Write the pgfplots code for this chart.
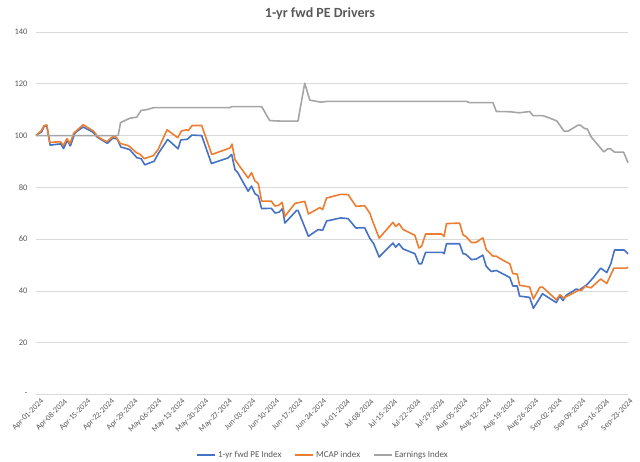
\documentclass[border=0pt]{standalone}
\usepackage{fontspec}
\setmainfont{Carlito}
\usepackage{pgfplots}
\usepackage{pgfplotstable}
\pgfplotsset{compat=1.18}
\definecolor{cblue}{HTML}{4472C4}
\definecolor{corange}{HTML}{ED7D31}
\definecolor{cgray}{HTML}{A5A5A5}
\definecolor{ctext}{HTML}{595959}
\definecolor{cgrid}{HTML}{D9D9D9}

\pgfplotstableread{
d v
0 100
1.7 101.5
2.4 103.6
3.2 103.8
4.2 96.3
7.3 96.8
8.2 95.0
9.3 98.2
10.2 96.0
11.6 101.1
14.0 103.3
16.8 101.4
18.3 99.3
21.2 97.0
22.8 99.1
24.1 98.7
25.2 95.6
27.8 94.6
30.0 91.4
31.2 91.1
32.3 88.7
35.1 90.1
36.3 93.0
39.1 98.5
42.2 94.9
43.0 98.3
45.0 98.6
46.3 100.2
49.2 100.0
52.1 89.2
57.1 91.4
58.1 92.7
59.1 86.8
59.9 85.7
63.0 78.5
64.0 80.5
65.0 77.6
66.0 76.7
67.0 71.8
69.9 71.9
71.0 70.1
72.2 70.4
73.2 71.8
73.9 66.2
77.4 71.1
77.8 71.1
80.9 61.1
83.8 63.7
85.1 63.4
86.3 67.0
90.5 68.2
92.7 67.9
95.0 64.3
97.6 64.4
99.1 60.4
100.3 58.2
101.9 53.1
106.0 58.5
106.8 56.9
107.8 58.2
109.0 56.2
112.5 54.4
113.7 50.5
114.5 50.5
115.7 54.9
120.7 54.9
121.2 54.4
121.9 58.2
125.8 58.2
126.8 54.4
127.6 54.2
129.3 52.1
130.7 52.3
132.7 53.8
133.7 49.5
135.2 47.5
136.7 47.9
140.7 45.2
141.6 41.9
142.9 41.9
143.6 38.0
146.6 37.5
147.7 33.3
150.4 38.9
154.5 35.5
155.5 38.0
156.5 36.3
157.4 38.3
160.4 40.7
161.4 40.4
163.6 42.4
165.4 45.0
167.7 48.8
169.5 47.1
170.7 50.5
171.8 55.8
174.7 55.8
175.8 54.3
}\pe

\pgfplotstableread{
d v
0 100
1.5 101.8
2.4 103.8
3.2 104.1
4.1 97.3
5.6 97.5
7.3 97.6
8.1 96.2
9.2 98.8
10.1 96.9
11.2 100.9
14.0 104.2
16.0 102.6
17.0 101.8
18.5 99.4
21.0 97.6
22.8 99.6
23.8 99.4
25.0 97.0
27.6 96.0
29.8 93.4
30.9 92.8
32.2 91.1
34.9 92.3
36.3 94.7
38.9 102.2
42.1 99.2
43.2 101.8
44.7 102.2
45.2 101.9
46.4 103.9
49.2 103.9
52.2 92.7
57.6 95.2
58.2 96.7
59.1 90.7
60.0 89.0
63.0 83.6
64.0 85.7
65.0 82.5
66.0 81.5
67.0 74.7
69.9 74.7
70.9 72.8
72.1 73.1
73.1 74.2
73.9 68.8
76.9 73.8
79.8 74.6
80.9 69.7
84.3 72.2
85.1 71.4
86.3 75.9
90.5 77.3
92.7 77.2
95.0 72.7
97.6 72.9
99.1 70.1
100.1 66.5
101.9 60.4
106.0 66.5
106.8 64.9
107.8 66.0
109.0 63.7
112.5 61.5
113.7 56.6
114.5 57.2
115.7 62.0
120.4 62.0
121.2 61.1
121.9 66.0
125.8 66.2
126.8 61.7
127.6 61.1
129.3 58.7
130.6 58.7
132.7 60.5
133.7 56.0
135.6 53.5
136.7 53.4
138.7 51.8
140.7 50.5
141.6 46.7
142.9 46.5
143.6 42.2
146.6 41.5
147.7 36.9
149.6 41.4
150.4 41.5
154.5 36.6
155.6 38.5
156.7 37.3
159.0 38.8
161.2 40.3
162.0 40.2
163.1 41.8
164.8 41.2
167.7 44.6
169.5 42.9
171.6 48.8
175.2 48.8
175.8 49.1
}\mcap

\pgfplotstableread{
d v
0 100
24.4 100
25.1 105.0
27.9 106.7
29.9 107.1
31.2 109.7
32.8 110.0
35.0 110.8
57.6 110.8
58.2 111.2
67.0 111.2
69.4 105.8
72.4 105.6
77.8 105.6
79.8 120.2
81.3 113.7
84.6 112.9
86.3 113.2
127.8 113.2
128.8 112.7
135.7 112.7
136.7 109.3
140.7 109.2
143.6 108.8
146.6 109.3
147.6 107.7
150.5 107.7
152.5 106.8
154.7 105.6
156.8 101.7
158.0 101.7
160.9 104.0
161.7 104.0
162.9 102.7
163.7 102.6
164.9 99.4
168.6 93.7
169.8 94.9
170.6 94.9
171.8 93.6
174.5 93.6
175.8 89.5
}\earn

\begin{document}
\begin{tikzpicture}
\path[use as bounding box] (-36pt,-67.5pt) rectangle (604pt,394.5pt);
\begin{axis}[
  at={(0,0)}, anchor=south west,
  scale only axis,
  width=592pt, height=362.5pt,
  xmin=0, xmax=175.8,
  ymin=0, ymax=140,
  axis line style={draw=none},
  major tick length=0pt,
  ymajorgrids,
  grid style={color=cgrid, line width=0.7pt},
  ytick={0,20,...,140},
  yticklabels={-,20,40,60,80,100,120,140},
  yticklabel style={font=\fontsize{8.5}{9}\selectfont, text=ctext, xshift=-5pt},
  xtick={0,7,...,175},
  xticklabels={Apr-01-2024,Apr-08-2024,Apr-15-2024,Apr-22-2024,Apr-29-2024,May-06-2024,May-13-2024,May-20-2024,May-27-2024,Jun-03-2024,Jun-10-2024,Jun-17-2024,Jun-24-2024,Jul-01-2024,Jul-08-2024,Jul-15-2024,Jul-22-2024,Jul-29-2024,Aug-05-2024,Aug-12-2024,Aug-19-2024,Aug-26-2024,Sep-02-2024,Sep-09-2024,Sep-16-2024,Sep-23-2024},
  xticklabel style={font=\fontsize{8}{9}\selectfont, text=ctext, rotate=45, anchor=north east, inner sep=0.5pt, yshift=-5pt, xshift=1pt},
  clip=false,
  legend style={at={(0.485,-0.167)}, anchor=center, draw=none, fill=none,
    legend columns=-1, font=\fontsize{9}{10}\selectfont, text=ctext,
    /tikz/every even column/.append style={column sep=11pt},
    inner sep=0pt},
  legend image code/.code={\draw[#1, line width=1.6pt] (0pt,0pt) -- (18pt,0pt);},
  every axis plot/.append style={line width=1.6pt, line join=round},
]
\addplot[cblue, no marks] table[x=d, y=v] {\pe};
\addlegendentry{1-yr fwd PE Index}
\addplot[corange, no marks] table[x=d, y=v] {\mcap};
\addlegendentry{MCAP index}
\addplot[cgray, no marks] table[x=d, y=v] {\earn};
\addlegendentry{Earnings Index}
\node[font=\bfseries\fontsize{14}{16}\selectfont, text=ctext] at (rel axis cs:0.4797,1.0497) {1-yr fwd PE Drivers};
\end{axis}
\end{tikzpicture}
\end{document}
